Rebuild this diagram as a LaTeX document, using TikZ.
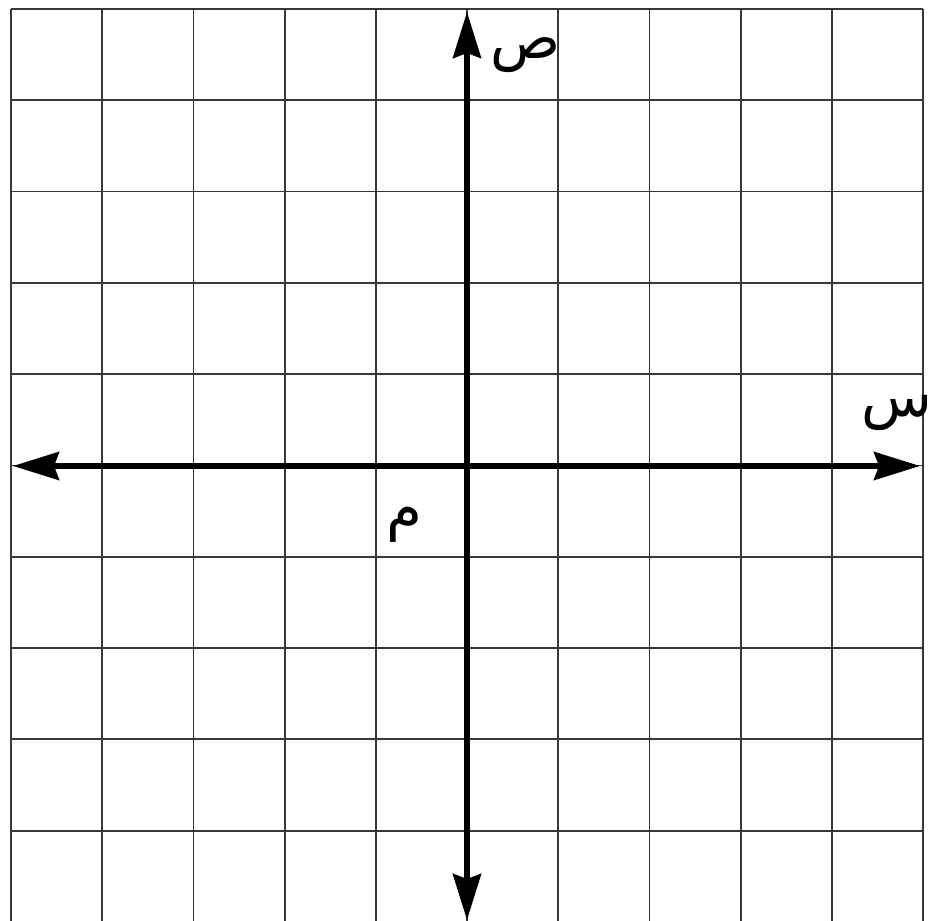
\documentclass[tikz,border=0pt]{standalone}
\usepackage{fontspec}
\newfontfamily\arabicfont[Script=Arabic]{DejaVu Sans}
\TeXXeTstate=1
\usetikzlibrary{arrows.meta}
\begin{document}
\begin{tikzpicture}[x=1pt,y=1pt,
  gridline/.style={line width=1.8pt, black!78},
  axis/.style={line width=5.5pt, black, {Stealth[length=46pt,width=28pt,inset=5pt]}-{Stealth[length=46pt,width=28pt,inset=5pt]}},
  lbl/.style={font=\arabicfont\fontsize{58}{60}\selectfont, inner sep=0pt}]
\useasboundingbox (0,0) rectangle (935,921);
\clip (0,0) rectangle (935,921);
\fill[white] (0,0) rectangle (935,921);
\foreach \i in {0,...,10} \draw[gridline] ({11+91.2*\i},912) -- ({11+91.2*\i},-5);
\foreach \j in {0,...,9} \draw[gridline] (11,{912-91.3*\j}) -- (923,{912-91.3*\j});
\coordinate (xl) at (13,455);
\coordinate (xr) at (920,455);
\coordinate (yt) at (467,909);
\coordinate (yb) at (467,1);
\draw[axis] (xl) -- (xr);
\draw[axis] (yb) -- (yt);
\node[lbl] (ylab) at (526,866) {\beginR ص\endR};
\node[lbl] (xlab) at (897,508) {\beginR س\endR};
\node[lbl] (olab) at (404,396) {\beginR م\endR};
\end{tikzpicture}
\end{document}
